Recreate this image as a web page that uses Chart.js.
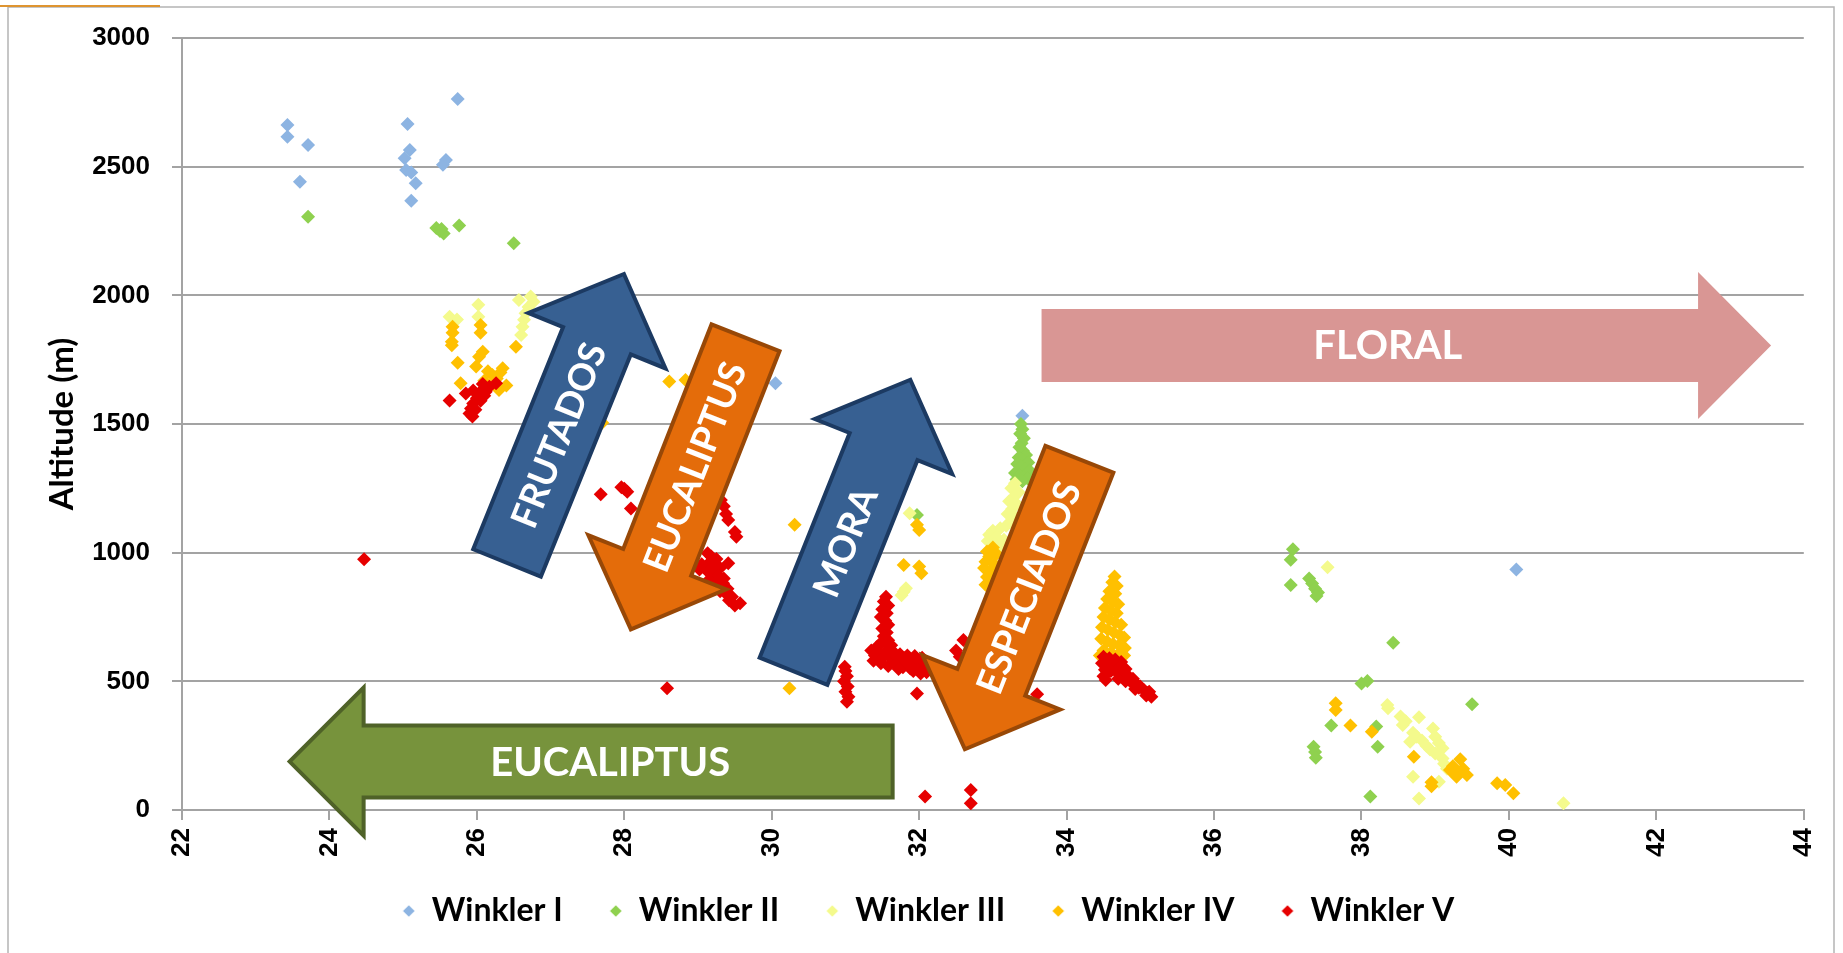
<!DOCTYPE html>
<html>
<head>
<meta charset="utf-8">
<script src="https://cdn.jsdelivr.net/npm/chart.js@4/dist/chart.umd.min.js"></script>
<style>
html,body{margin:0;padding:0;background:#fff;}
canvas{display:block;}
</style>
</head>
<body>
<canvas id="c" width="1843" height="953"></canvas>
<script>
// ---------- data (x = temperature index, y = altitude in m) ----------
const seriesNames = ['Winkler I', 'Winkler II', 'Winkler III', 'Winkler IV', 'Winkler V'];
const xTicksRange = [22, 44, 2];
const yTicksRange = [0, 3000, 500];
const yAxisTitle = 'Altitude (m)';

const winklerI = [
  [23.43,2662],[23.43,2616],[23.71,2584],[23.60,2441],
  [25.74,2763],[25.06,2666],[25.09,2565],[25.02,2533],[25.58,2526],[25.54,2507],
  [25.04,2487],[25.11,2477],[25.17,2436],[25.11,2368],
  [30.05,1658],[33.40,1532],[40.10,935]
];

const winklerII = [
  [23.71,2305],[25.45,2262],[25.50,2250],[25.55,2240],[25.52,2258],[25.76,2271],[26.50,2202],
  [31.97,1146],
  [33.38,1500],[33.40,1480],[33.37,1462],[33.42,1445],[33.39,1425],[33.36,1410],[33.41,1395],
  [33.45,1380],[33.35,1370],[33.40,1360],[33.48,1350],[33.33,1345],[33.38,1335],[33.44,1325],
  [33.50,1318],[33.30,1310],[33.36,1300],[33.42,1294],[33.47,1288],[33.32,1284],[33.40,1278],
  [37.07,1013],[37.04,972],[37.04,874],[37.29,900],[37.33,880],[37.37,860],[37.41,845],[37.39,832],
  [38.43,650],[38.00,492],[38.08,501],[37.59,328],[38.20,324],[38.22,246],
  [37.35,246],[37.37,225],[37.38,203],[38.12,52],[39.50,411]
];

const winklerIII = [
  [26.73,1995],[26.57,1982],[26.77,1975],[26.70,1955],[26.66,1930],[26.64,1905],[26.62,1878],[26.60,1846],
  [26.02,1963],[26.02,1917],[25.63,1917],[25.73,1906],
  [31.87,1153],[31.79,848],[31.76,835],[31.82,862],
  [33.30,1270],[33.25,1250],[33.35,1235],[33.28,1215],[33.22,1200],[33.32,1190],[33.26,1170],
  [33.20,1150],[33.30,1140],[33.24,1120],[33.18,1105],
  [33.10,1095],[33.00,1085],[32.95,1070],[33.05,1060],[33.15,1050],[32.93,1045],[33.02,1035],[33.10,1025],
  [37.54,943],[38.35,408],[38.36,395],[38.53,363],[38.60,345],[38.56,330],[38.78,360],[38.97,317],
  [38.66,265],[38.70,300],[38.75,285],[38.82,270],[38.88,250],[38.93,235],[39.00,285],[39.05,260],
  [39.10,240],[39.00,220],[39.10,200],[39.12,180],[39.16,160],[39.05,110],[38.70,129],[38.78,45],
  [40.74,26]
];

const winklerIV = [
  [25.67,1878],[25.67,1855],[25.66,1820],[25.66,1806],[26.05,1885],[26.05,1855],[26.53,1800],
  [25.74,1738],[26.08,1781],[26.03,1761],[25.99,1723],[26.35,1717],[26.32,1700],[26.21,1690],
  [26.27,1677],[26.15,1705],[25.78,1658],[26.30,1632],[26.10,1668],[26.40,1650],
  [28.61,1665],[28.83,1671],[27.70,1505],
  [30.31,1108],[30.24,473],[31.97,1108],[32.00,1088],[31.79,952],[32.00,946],[32.03,920],
  [33.00,1020],[32.92,1005],[33.05,995],[32.95,985],[32.90,965],[33.02,955],[32.88,940],
  [32.97,930],[33.05,920],[32.92,905],[32.99,890],[32.90,875],[33.03,870],
  [34.65,907],[34.62,885],[34.68,870],[34.58,850],[34.66,840],[34.55,820],[34.62,810],[34.70,800],
  [34.52,785],[34.60,775],[34.68,765],[34.50,750],[34.58,740],[34.66,730],[34.74,720],[34.48,710],
  [34.56,700],[34.64,690],[34.72,680],[34.78,670],[34.47,665],[34.55,655],[34.63,645],[34.71,640],
  [34.79,630],[34.50,620],[34.60,612],[34.70,605],[34.78,600],[34.45,600],[34.55,590],[34.65,585],
  [37.65,415],[37.65,389],[37.85,328],[38.14,304],[38.71,207],[38.95,108],[38.95,92],
  [39.20,155],[39.34,197],[39.43,136],[39.29,129],[39.27,142],[39.24,170],[39.38,160],
  [39.84,104],[39.95,97],[40.06,65]
];

const winklerV = [
  [24.47,974],
  [25.63,1591],[26.03,1619],[25.95,1630],[26.10,1640],[26.17,1645],[26.00,1600],[25.95,1580],
  [26.05,1590],[26.10,1610],[25.92,1560],[25.90,1541],[25.98,1555],[26.12,1625],[26.08,1655],
  [25.85,1619],[26.26,1658],[25.94,1529],
  [27.68,1227],[27.96,1254],[28.04,1237],[28.09,1172],[28.00,1248],
  [29.31,1205],[29.35,1180],[29.38,1150],[29.41,1127],[29.52,1062],[29.50,1080],
  [29.13,998],[29.18,985],[29.25,975],[29.41,959],[29.15,960],[29.22,950],[29.30,940],[29.12,930],
  [29.20,920],[29.28,910],[29.35,900],[29.15,895],[29.25,885],[29.34,881],[29.40,860],[29.30,850],
  [29.38,840],[29.46,829],[29.42,815],[29.57,803],[29.50,795],[29.05,955],[29.02,935],
  [28.58,473],
  [30.99,557],[31.00,540],[31.02,520],[30.98,500],[31.03,480],[31.00,460],[31.04,440],[31.02,421],
  [31.55,829],[31.52,810],[31.58,795],[31.50,780],[31.56,765],[31.48,750],[31.54,735],[31.58,720],
  [31.50,705],[31.56,690],[31.52,675],[31.58,660],[31.62,640],[31.56,650],[31.46,640],[31.50,655],
  [31.35,620],[31.40,600],[31.45,610],[31.50,590],[31.55,615],[31.60,600],[31.65,580],[31.70,595],
  [31.75,575],[31.80,590],[31.85,570],[31.90,585],[31.95,565],[32.00,580],[32.05,560],[32.10,575],
  [31.38,580],[31.48,570],[31.58,560],[31.68,565],[31.78,555],[31.88,550],[31.98,545],[32.08,550],
  [31.42,632],[31.66,612],[31.74,605],[31.84,600],[31.94,598],[32.04,592],[31.72,548],[31.92,540],
  [32.02,530],[32.10,535],
  [31.97,453],[32.08,52],[32.70,78],[32.70,26],[32.60,661],[32.55,596],[32.50,620],[33.60,450],
  [34.50,596],[34.58,590],[34.66,585],[34.74,575],[34.48,570],[34.56,565],[34.64,560],[34.72,555],
  [34.80,548],[34.52,545],[34.60,540],[34.68,535],[34.76,530],[34.84,520],[34.90,510],[34.50,520],
  [34.53,505],[34.70,510],[34.80,500],[34.88,495],[34.95,490],[35.00,480],[34.93,470],[35.05,465],
  [35.10,455],[35.15,440],[35.08,445],[35.12,460],[34.98,475]
];

const seriesData = [winklerI, winklerII, winklerIII, winklerIV, winklerV];
const seriesColors = ['#8DB4E2', '#8FD14F', '#F4FA8C', '#FFC000', '#E60000'];

// ---------- annotation arrows (anchored in data coordinates) ----------
const arrowSpecs = [
  {text:'FRUTADOS',   from:[26.409,960],  to:[27.995,2083], fill:'#376092', stroke:'#1C3A62', body:73, head:148, headLen:72, font:37},
  {text:'EUCALIPTUS', from:[29.644,1835], to:[28.089,702],  fill:'#E46C0A', stroke:'#984807', body:73, head:148, headLen:72, font:37},
  {text:'MORA',       from:[30.295,539],  to:[31.880,1672], fill:'#376092', stroke:'#1C3A62', body:73, head:148, headLen:72, font:37},
  {text:'ESPECIADOS', from:[34.173,1363], to:[32.620,236],  fill:'#E46C0A', stroke:'#984807', body:73, head:148, headLen:72, font:37},
  {text:'FLORAL',     from:[33.66,1805],  to:[43.556,1805], fill:'#D99694', stroke:null,      body:73, head:147, headLen:73, font:40},
  {text:'EUCALIPTUS', from:[31.640,188],  to:[23.460,188],  fill:'#77933C', stroke:'#4F6228', body:72, head:148, headLen:74, font:40}
];

function drawArrow(ctx, x0, y0, x1, y1, s) {
  const dx = x1 - x0, dy = y1 - y0;
  const L = Math.hypot(dx, dy);
  const ang = Math.atan2(dy, dx);
  ctx.save();
  ctx.translate(x0, y0);
  ctx.rotate(ang);
  const b = s.body / 2, h = s.head / 2, hb = L - s.headLen;
  ctx.beginPath();
  ctx.moveTo(0, -b);
  ctx.lineTo(hb, -b);
  ctx.lineTo(hb, -h);
  ctx.lineTo(L, 0);
  ctx.lineTo(hb, h);
  ctx.lineTo(hb, b);
  ctx.lineTo(0, b);
  ctx.closePath();
  ctx.fillStyle = s.fill;
  ctx.fill();
  if (s.stroke) {
    ctx.lineWidth = 4;
    ctx.lineJoin = 'miter';
    ctx.strokeStyle = s.stroke;
    ctx.stroke();
  }
  const t = hb / 2 + 18;
  ctx.translate(t, 0);
  if (Math.cos(ang) < -0.01) ctx.rotate(Math.PI);
  ctx.fillStyle = '#FFFFFF';
  ctx.font = 'bold ' + s.font + 'px Lato';
  ctx.textAlign = 'center';
  ctx.textBaseline = 'middle';
  ctx.fillText(s.text, 0, 1);
  ctx.restore();
}

// legend marker: small diamond, placed a little to the right inside its box
function legendMarker(color) {
  const c = document.createElement('canvas');
  c.width = 46; c.height = 16;
  const g = c.getContext('2d');
  const cx = 32, cy = 8, r = 5.8;
  g.fillStyle = color;
  g.beginPath();
  g.moveTo(cx - r, cy); g.lineTo(cx, cy - r); g.lineTo(cx + r, cy); g.lineTo(cx, cy + r);
  g.closePath();
  g.fill();
  return c;
}

const decorPlugin = {
  id: 'decor',
  beforeDraw(chart) {
    const ctx = chart.ctx;
    ctx.save();
    ctx.fillStyle = '#FFFFFF';
    ctx.fillRect(0, 0, chart.width, chart.height);
    ctx.strokeStyle = '#B4B4B4';
    ctx.lineWidth = 1.5;
    ctx.beginPath();
    ctx.moveTo(8, 960); ctx.lineTo(8, 7); ctx.lineTo(1834, 7); ctx.lineTo(1834, 960);
    ctx.stroke();
    ctx.strokeStyle = '#DE9430';
    ctx.lineWidth = 2;
    ctx.beginPath();
    ctx.moveTo(0, 6); ctx.lineTo(160, 6);
    ctx.stroke();
    ctx.restore();
  },
  afterDatasetsDraw(chart) {
    const ctx = chart.ctx;
    const xs = chart.scales.x, ys = chart.scales.y;
    arrowSpecs.forEach(s => {
      drawArrow(ctx,
        xs.getPixelForValue(s.from[0]), ys.getPixelForValue(s.from[1]),
        xs.getPixelForValue(s.to[0]), ys.getPixelForValue(s.to[1]), s);
    });
  }
};

const datasets = seriesNames.map((name, i) => ({
  label: name,
  data: seriesData[i].map(p => ({x: p[0], y: p[1]})),
  pointStyle: 'rectRot',
  pointRadius: 7,
  pointHoverRadius: 7,
  backgroundColor: seriesColors[i],
  borderColor: seriesColors[i],
  pointBorderWidth: 0,
  borderWidth: 0,
  showLine: false,
  order: seriesNames.length - i
}));

const tickFont = {family: 'Liberation Sans', weight: 'bold', size: 26};
const gridColor = '#A3A3A3';
const markers = seriesColors.map(legendMarker);

new Chart(document.getElementById('c'), {
  type: 'scatter',
  data: {datasets},
  options: {
    responsive: false,
    animation: false,
    events: [],
    layout: {padding: {left: 30, right: 35, top: 38, bottom: 16}},
    scales: {
      x: {
        type: 'linear',
        min: xTicksRange[0], max: xTicksRange[1],
        ticks: {stepSize: xTicksRange[2], minRotation: 90, maxRotation: 90, padding: 8, color: '#000', font: tickFont,
                callback: v => String(v)},
        grid: {drawOnChartArea: false, drawTicks: true, tickLength: 10, color: gridColor, lineWidth: 2},
        border: {display: true, color: gridColor, width: 2},
        afterFit: s => { s.height = 57; }
      },
      y: {
        type: 'linear',
        min: yTicksRange[0], max: yTicksRange[1],
        title: {display: true, text: yAxisTitle, color: '#000',
                font: {family: 'Lato', weight: 'bold', size: 33}, padding: {top: 13, bottom: 0}},
        ticks: {stepSize: yTicksRange[2], padding: 22, color: '#000', font: tickFont,
                callback: v => String(v)},
        grid: {color: gridColor, lineWidth: 2, tickLength: 10, drawTicks: true},
        border: {display: true, color: gridColor, width: 2},
        afterFit: s => { s.width = 152; }
      }
    },
    plugins: {
      tooltip: {enabled: false},
      legend: {
        position: 'bottom',
        labels: {
          usePointStyle: true,
          boxWidth: 32,
          boxHeight: 10,
          padding: 28,
          color: '#000',
          font: {family: 'Lato', weight: 'bold', size: 32},
          sort: (a, b) => a.datasetIndex - b.datasetIndex,
          generateLabels: chart => {
            const items = Chart.defaults.plugins.legend.labels.generateLabels(chart);
            items.forEach(it => { it.pointStyle = markers[it.datasetIndex]; it.rotation = 0; });
            return items;
          }
        }
      }
    }
  },
  plugins: [decorPlugin]
});
</script>
</body>
</html>
